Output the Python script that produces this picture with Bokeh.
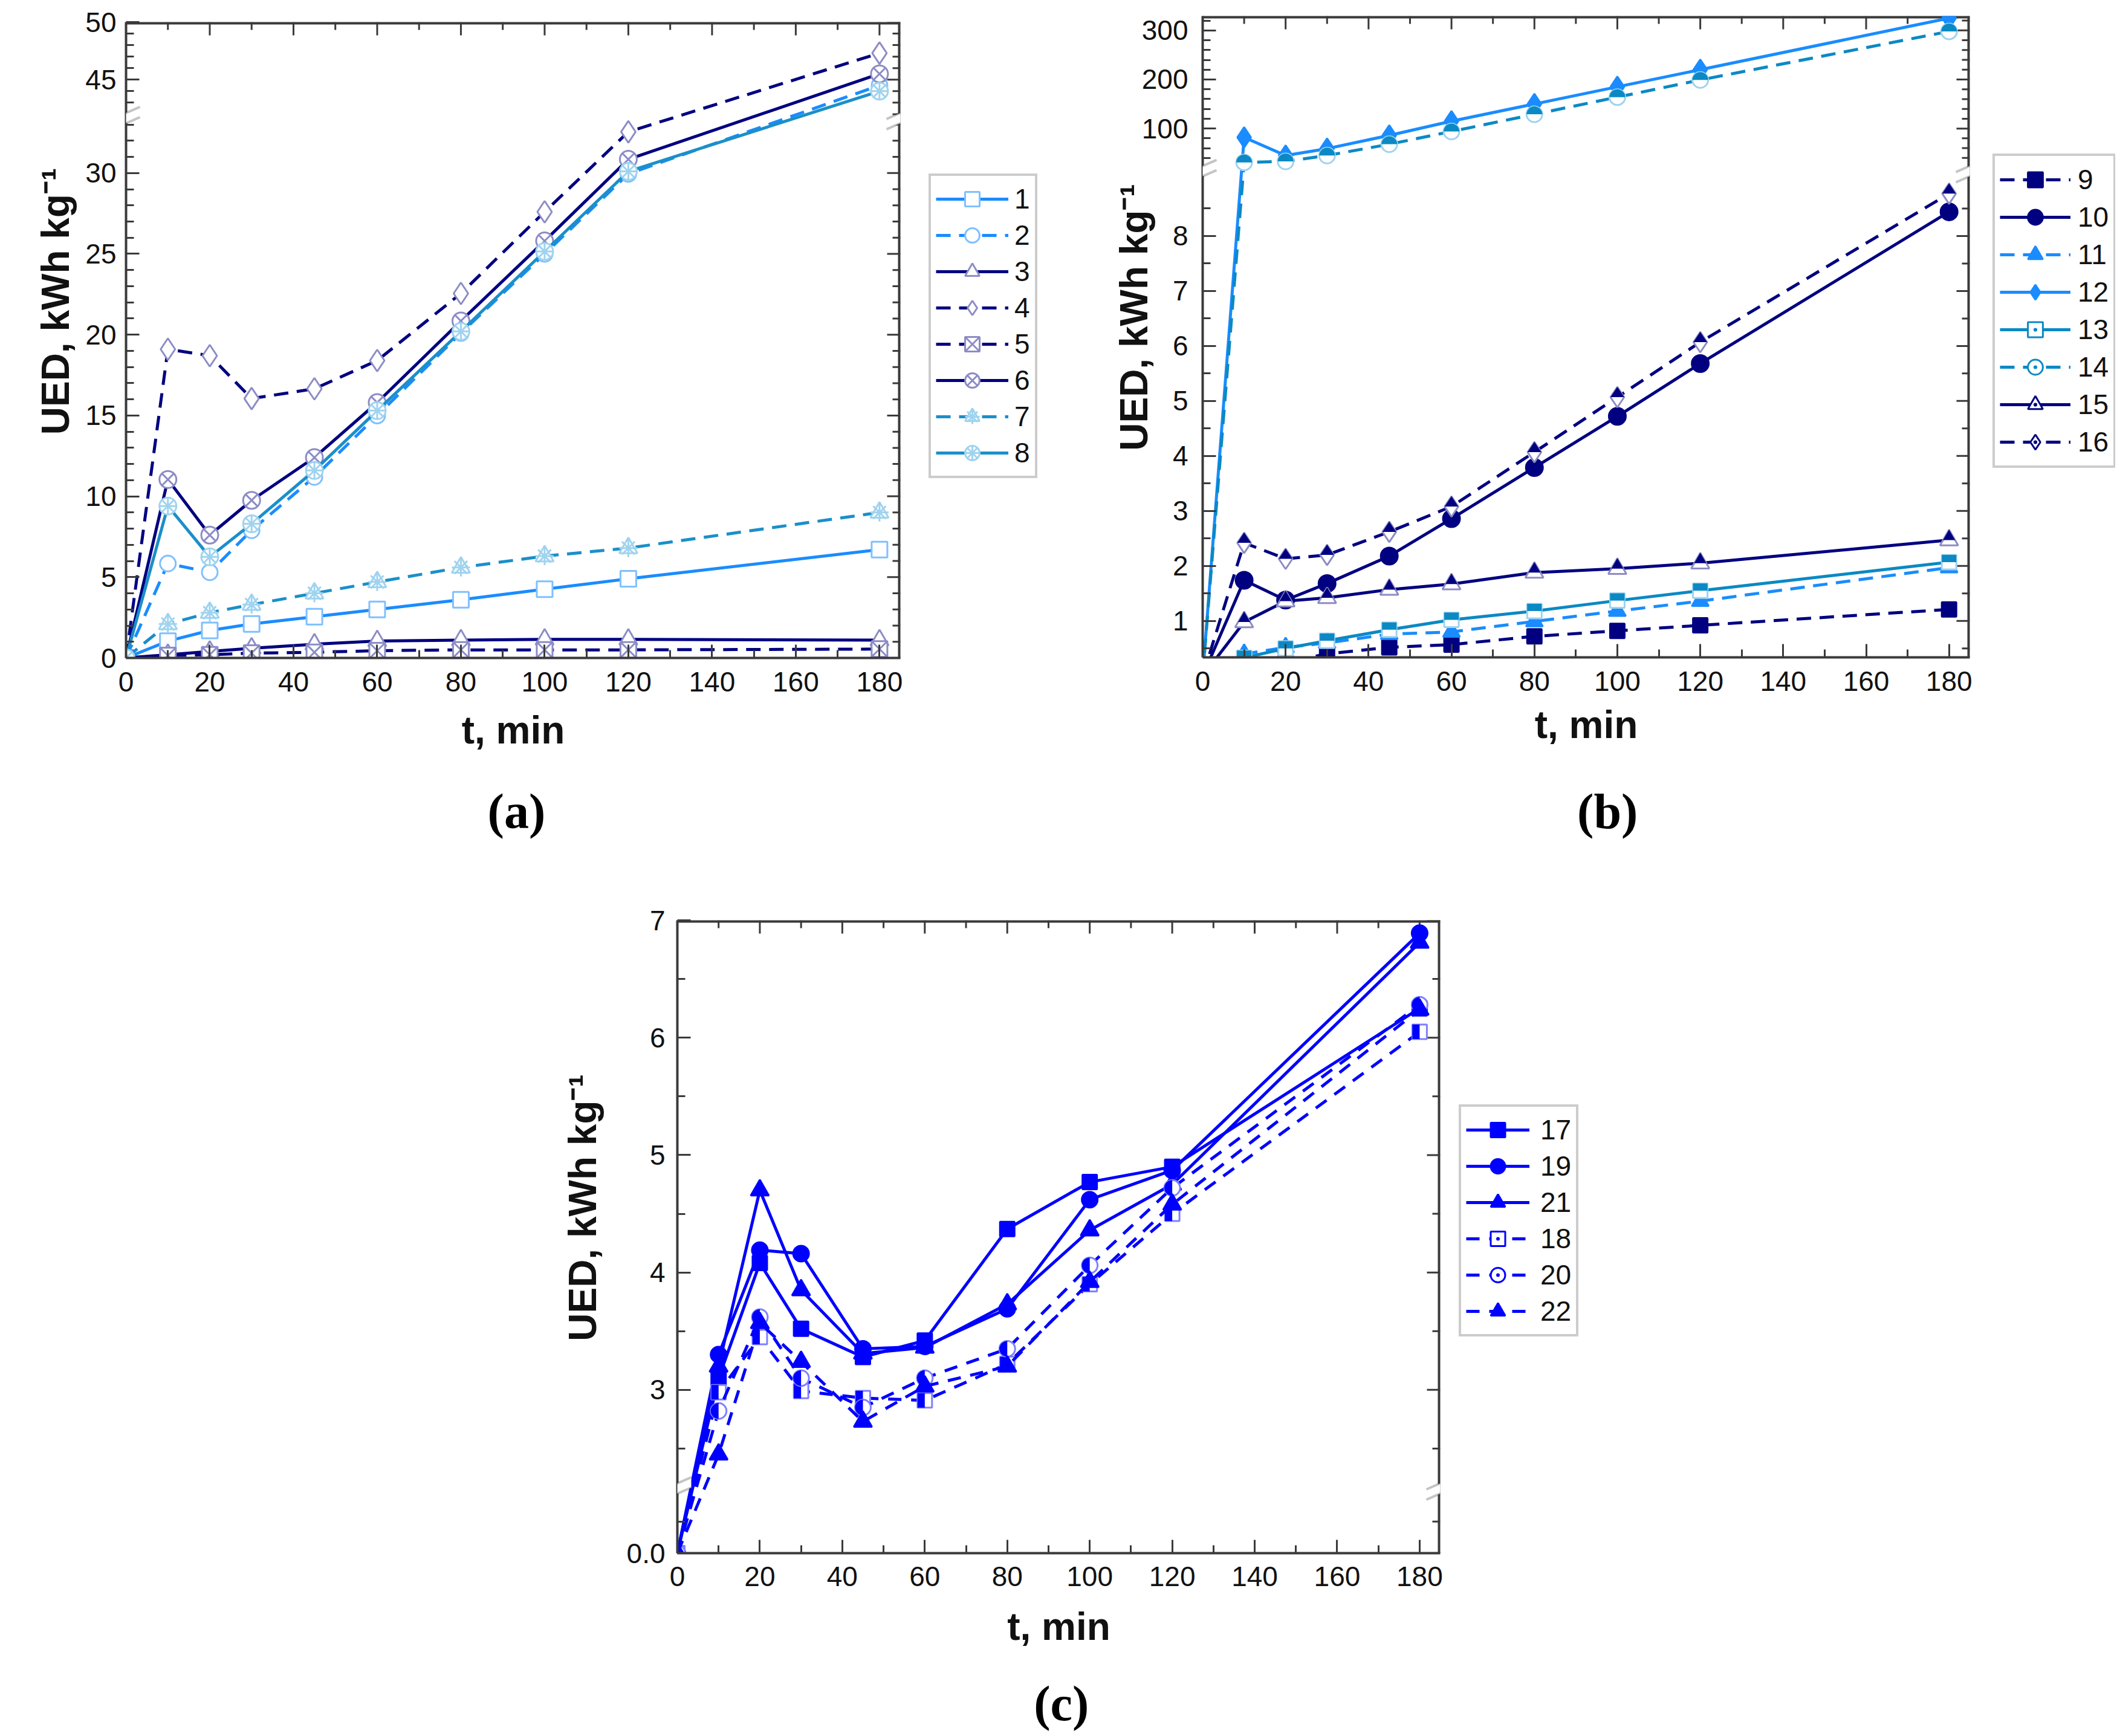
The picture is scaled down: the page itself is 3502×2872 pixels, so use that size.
import math
from bokeh.plotting import figure
from bokeh.models import (FixedTicker, Legend, LegendItem, Label,
                          PolyAnnotation, Spacer, ColumnDataSource)
from bokeh.layouts import column, row
from bokeh.embed import file_html
from bokeh.resources import INLINE

# ---------------------------------------------------------------- data
t_min = [0, 10, 20, 30, 45, 60, 80, 100, 120, 180]

# panel (a)
a_s1 = [0, 1.04, 1.7, 2.1, 2.55, 3.0, 3.6, 4.25, 4.9, 6.7]
a_s2 = [0, 5.84, 5.3, 7.9, 11.2, 15.0, 20.1, 25.0, 29.95, 44.5]
a_s3 = [0, 0.2, 0.4, 0.6, 0.85, 1.05, 1.1, 1.15, 1.15, 1.1]
a_s4 = [0, 19.1, 18.7, 16.05, 16.65, 18.4, 22.55, 27.6, 32.55, 47.3]
a_s5 = [0, 0.15, 0.2, 0.3, 0.35, 0.45, 0.5, 0.5, 0.5, 0.55]
a_s6 = [0, 11.04, 7.6, 9.75, 12.4, 15.8, 20.85, 25.8, 30.85, 45.5]
a_s7 = [0, 2.1, 2.8, 3.3, 4.0, 4.7, 5.6, 6.3, 6.8, 9.0]
a_s8 = [0, 9.4, 6.25, 8.3, 11.6, 15.3, 20.2, 25.15, 30.1, 44.0]

# panel (b)
b_s9 = [0, 0.12, 0.25, 0.4, 0.52, 0.57, 0.72, 0.82, 0.92, 1.21]
b_s10 = [0, 1.74, 1.38, 1.68, 2.18, 2.86, 3.79, 4.72, 5.68, 8.44]
b_s11 = [0, 0.4, 0.52, 0.6, 0.76, 0.8, 0.99, 1.18, 1.36, 1.97]
b_s12 = [0, 82, 45, 59, 86, 115, 150, 185, 220, 325]
b_s13 = [0, 0.33, 0.5, 0.64, 0.84, 1.02, 1.18, 1.37, 1.55, 2.07]
b_s14 = [0, 31, 33, 45, 68, 94, 129, 164, 199, 298]
b_s15 = [0, 0.98, 1.36, 1.42, 1.57, 1.67, 1.88, 1.95, 2.05, 2.47]
b_s16 = [0, 2.42, 2.13, 2.2, 2.62, 3.08, 4.07, 5.07, 6.07, 8.77]

# panel (c)
c_s17 = [0, 3.1, 4.08, 3.52, 3.28, 3.42, 4.37, 4.77, 4.9, 6.25]
c_s19 = [0, 3.3, 4.19, 4.16, 3.35, 3.37, 3.69, 4.62, 4.87, 6.89]
c_s21 = [0, 3.2, 4.7, 3.85, 3.31, 3.36, 3.73, 4.36, 4.75, 6.81]
c_s18 = [0, 2.98, 3.45, 2.99, 2.93, 2.91, 3.22, 3.9, 4.5, 6.05]
c_s20 = [0, 2.82, 3.62, 3.1, 2.85, 3.1, 3.35, 4.06, 4.72, 6.28]
c_s22 = [0, 2.45, 3.57, 3.24, 2.73, 3.03, 3.2, 3.92, 4.58, 6.24]

x_major = [0, 20, 40, 60, 80, 100, 120, 140, 160, 180]
x_minor = [10, 30, 50, 70, 90, 110, 130, 150, 170]

a_major = [0, 5, 10, 15, 20, 25, 30, 45, 50]
a_minor = [v for v in range(1, 34) if v % 5] + [42, 43, 44, 46, 47, 48, 49]
b_major = [1, 2, 3, 4, 5, 6, 7, 8, 100, 200, 300]
b_minor = [0.5, 1.5, 2.5, 3.5, 4.5, 5.5, 6.5, 7.5, 8.5,
           40, 60, 80, 120, 140, 160, 180, 220, 240, 260, 280, 320]
c_major = [0, 3, 4, 5, 6, 7]
c_minor = [0.25, 2.5, 3.5, 4.5, 5.5, 6.5]
c_major_text = ["0.0", "3", "4", "5", "6", "7"]

Y_TITLE = "UED, kWh kg⁻¹"
X_TITLE = "t, min"

# ---------------------------------------------------------------- broken-axis mappings
def tf_a(v):
    return v if v <= 33.27 else 35.78 + (v - 45.0) * 0.7123

def tf_b(v):
    return v if v <= 9.18 else 9.954 + (v - 100.0) * 0.00892

def tf_c(v):
    return 1.609 + v * 1.074 if v < 0.5 else v

# ---------------------------------------------------------------- styles
FRAME = "#3a3a3a"
NAVY, NAVY_L = "#000080", "#8c8cc6"
AZURE, AZURE_L = "#1a8cff", "#80c0ff"
TEAL, TEAL_L = "#1b8fc9", "#9fd3ef"
TEAL2 = "#0b89c4"
BLUE, BLUE_L = "#0000ff", "#8080ff"
LW = 5
DASH = "24 14"
DASH_C = "22 16"
TICK_FONT = "Liberation Sans"
TITLE_FONT = "Liberation Sans"
TICK_IN, MINOR_IN = 22, 13
NAN = float("nan")
EM, EN = "\u2003", "\u2002"   # leading spacing shifts the y title along its axis


def style_axis(ax):
    ax.axis_line_width = 4
    ax.axis_line_color = FRAME
    ax.major_tick_line_color = FRAME
    ax.minor_tick_line_color = FRAME
    ax.major_tick_line_width = 3
    ax.minor_tick_line_width = 3
    ax.major_tick_in = TICK_IN
    ax.major_tick_out = 0
    ax.minor_tick_in = MINOR_IN
    ax.minor_tick_out = 0
    ax.major_label_text_font = TICK_FONT
    ax.major_label_text_font_size = "46px"
    ax.major_label_text_color = "#111111"


def make_fig(w, h, ml, mr, mt, mb, yr, tf, ymaj, ymin, ylabels,
             x_tick_standoff, xl_standoff, yl_standoff, yl_tick_standoff, ypad):
    p = figure(width=w, height=h, x_range=(0, 185), y_range=yr,
               output_backend="svg", toolbar_location=None,
               min_border_left=ml, min_border_right=mr,
               min_border_top=mt, min_border_bottom=mb)
    p.xgrid.visible = False
    p.ygrid.visible = False
    p.outline_line_color = None
    fw = w - ml - mr
    fh = h - mt - mb
    yt_major = [round(tf(v), 6) for v in ymaj]
    yt_minor = [round(tf(v), 6) for v in ymin]
    overrides = {k: s for k, s in zip(yt_major, ylabels)}

    xb = p.below[0]
    xb.ticker = FixedTicker(ticks=x_major, minor_ticks=x_minor)
    style_axis(xb)
    xb.major_label_standoff = x_tick_standoff
    xb.axis_label = X_TITLE
    xb.axis_label_text_font = TITLE_FONT
    xb.axis_label_text_font_style = "bold"
    xb.axis_label_text_font_size = "64px"
    xb.axis_label_text_color = "#111111"
    xb.axis_label_standoff = xl_standoff

    yl = p.left[0]
    yl.ticker = FixedTicker(ticks=yt_major, minor_ticks=yt_minor)
    yl.major_label_overrides = overrides
    style_axis(yl)
    yl.major_label_standoff = yl_tick_standoff
    yl.axis_label = ypad + Y_TITLE
    yl.axis_label_text_font = TITLE_FONT
    yl.axis_label_text_font_style = "bold"
    yl.axis_label_text_font_size = "64px"
    yl.axis_label_text_color = "#111111"
    yl.axis_label_standoff = yl_standoff

    dxu = 185.0 / fw
    dyu = (yr[1] - yr[0]) / fh
    # top and right frame lines (half of the width is clipped by the frame)
    p.segment(x0=[0, 185], y0=[yr[1], yr[0]], x1=[185, 185], y1=[yr[1], yr[1]],
              line_color=FRAME, line_width=8)
    # inward mirror ticks on top and right edges
    xs0, xs1, ys0, ys1 = [], [], [], []
    for xv, ln in [(v, TICK_IN) for v in x_major] + [(v, MINOR_IN) for v in x_minor]:
        xs0.append(xv); xs1.append(xv)
        ys0.append(yr[1]); ys1.append(yr[1] - ln * dyu)
    for yv, ln in [(v, TICK_IN) for v in yt_major] + [(v, MINOR_IN) for v in yt_minor]:
        xs0.append(185); xs1.append(185 - ln * dxu)
        ys0.append(yv); ys1.append(yv)
    p.segment(x0=xs0, y0=ys0, x1=xs1, y1=ys1, line_color=FRAME, line_width=3)
    return p, dxu, dyu


def add_break(p, yb, dxu, dyu):
    hw, hh, g = 23, 10, 8.5
    for xb in (0, 185):
        xs = [xb - hw * dxu, xb + hw * dxu, xb + hw * dxu, xb - hw * dxu]
        ys = [yb + (-hh - g) * dyu, yb + (hh - g) * dyu, yb + (hh + g) * dyu, yb + (-hh + g) * dyu]
        p.add_layout(PolyAnnotation(xs=xs, ys=ys, fill_color="white", fill_alpha=1.0,
                                    line_alpha=0.0))
        for off in (-g, g):
            p.add_layout(PolyAnnotation(xs=[xb - hw * dxu, xb + hw * dxu],
                                        ys=[yb + (-hh + off) * dyu, yb + (hh + off) * dyu],
                                        fill_alpha=0.0, line_color=FRAME, line_width=4))


def half_shapes(xs, ys, shape, side, size, dxu, dyu):
    r = size / 2.0
    pxs, pys = [], []
    for x, y in zip(xs, ys):
        if shape == "square":
            if side == "top":
                pxs.append([x - r * dxu, x + r * dxu, x + r * dxu, x - r * dxu])
                pys.append([y, y, y + r * dyu, y + r * dyu])
            else:
                pxs.append([x - r * dxu, x, x, x - r * dxu])
                pys.append([y - r * dyu, y - r * dyu, y + r * dyu, y + r * dyu])
        elif shape == "triangle":
            a = r * math.sqrt(3) / 3
            pxs.append([x, x - 2 * r / 3 * dxu, x + 2 * r / 3 * dxu])
            pys.append([y + 2 * a * dyu, y, y])
        elif shape == "diamond":
            pxs.append([x, x + r / 1.5 * dxu, x - r / 1.5 * dxu])
            pys.append([y + r * dyu, y, y])
    return pxs, pys


def draw_series(p, ys, tf, color, dash, markers, dxu, dyu, half=None):
    yt = [tf(v) for v in ys]
    src = ColumnDataSource(dict(x=t_min, y=yt))
    p.line("x", "y", source=src, line_color=color, line_width=LW, line_dash=dash)
    for (mk, size, lc, fc) in markers:
        p.scatter("x", "y", source=src, marker=mk, size=size, line_color=lc,
                  line_width=3, fill_color=fc)
    if half is not None:
        shape, side, size, fcol = half
        if shape == "circle":
            st, en = (0, math.pi) if side == "top" else (math.pi / 2, 3 * math.pi / 2)
            p.wedge("x", "y", source=src, radius=size / 2.0, radius_units="screen",
                    start_angle=st, end_angle=en, fill_color=fcol, line_color=None)
        else:
            pxs, pys = half_shapes(t_min, yt, shape, side, size, dxu, dyu)
            p.patches(pxs, pys, fill_color=fcol, line_color=None)


def legend_fig(w, h, entries, vx, vy, glyph_w, glyph_h, standoff):
    lf = figure(width=w, height=h, x_range=(0, 1), y_range=(0, 1),
                x_axis_location=None, y_axis_location=None,
                output_backend="svg", toolbar_location=None, min_border=0)
    lf.xgrid.visible = False
    lf.ygrid.visible = False
    lf.outline_line_color = None
    items = []
    for lab, color, dash, mks in entries:
        rs = [lf.line(x=[0, 1], y=[NAN, NAN], line_color=color, line_width=LW, line_dash=dash)]
        for mk, lc, fc in mks:
            rs.append(lf.scatter(x=[0], y=[NAN], marker=mk, size=24, line_color=lc,
                                 fill_color=fc, line_width=3))
        items.append(LegendItem(label=lab, renderers=rs))
    leg = Legend(items=items, location=(vx, vy), orientation="vertical",
                 border_line_color="#9a9a9a", border_line_width=4,
                 background_fill_color="white", background_fill_alpha=1.0,
                 padding=8, margin=0, spacing=0,
                 glyph_width=glyph_w, glyph_height=glyph_h, label_height=glyph_h,
                 label_standoff=standoff,
                 label_text_font=TICK_FONT, label_text_font_size="46px",
                 label_text_color="#111111")
    lf.add_layout(leg)
    return lf


def label_fig(w, h, cx, cy, text):
    f = figure(width=w, height=h, x_range=(0, w), y_range=(0, h),
               x_axis_location=None, y_axis_location=None,
               output_backend="svg", toolbar_location=None, min_border=0)
    f.xgrid.visible = False
    f.ygrid.visible = False
    f.outline_line_color = None
    f.add_layout(Label(x=cx, y=cy, text=text, text_align="center", text_baseline="middle",
                       text_font="Liberation Serif", text_font_style="bold",
                       text_font_size="82px", text_color="#000000"))
    return f

# ---------------------------------------------------------------- panel (a)
ya = (0.0, tf_a(50))
fa, dxa, dya = make_fig(1533, 1290, 208, 44, 36, 202, ya, tf_a,
                        a_major, a_minor, [str(v) for v in a_major], 23, 25, 10, 16, EM + EM)
specs_a = [
    (a_s1, "1", AZURE, "solid", [("square", 26, AZURE_L, "white")]),
    (a_s2, "2", AZURE, DASH, [("circle", 26, AZURE_L, "white")]),
    (a_s3, "3", NAVY, "solid", [("triangle", 30, NAVY_L, "white")]),
    (a_s4, "4", NAVY, DASH, [("diamond", 36, NAVY_L, "white")]),
    (a_s5, "5", NAVY, DASH, [("square_x", 26, NAVY_L, "white")]),
    (a_s6, "6", NAVY, "solid", [("circle_x", 28, NAVY_L, "white")]),
    (a_s7, "7", TEAL, DASH, [("triangle", 30, TEAL_L, "white"), ("asterisk", 30, TEAL_L, None)]),
    (a_s8, "8", TEAL, "solid", [("circle", 28, TEAL_L, "white"), ("asterisk", 28, TEAL_L, None)]),
]
leg_a = []
for ys, lab, col, dash, mks in specs_a:
    draw_series(fa, ys, tf_a, col, dash, mks, dxa, dya)
    leg_a.append((lab, col, dash, [(m[0], m[2], m[3]) for m in mks]))
add_break(fa, 33.4, dxa, dya)
la = legend_fig(227, 1420, leg_a, 3, 629, 120, 60, 10)
laba = label_fig(1533, 130, 773, 78, "(a)")

# ---------------------------------------------------------------- panel (b)
yb = (0.338, 12.0)
fb, dxb, dyb = make_fig(1533, 1290, 229, 35, 26, 203, yb, tf_b,
                        b_major, b_minor, [str(v) for v in b_major], 23, 17, -26, 24, EM)
specs_b = [
    (b_s9, "9", NAVY, DASH, [("square", 24, NAVY, NAVY)], None, None),
    (b_s10, "10", NAVY, "solid", [("circle", 28, NAVY, NAVY)], None, None),
    (b_s11, "11", AZURE, DASH, [("triangle", 28, AZURE, AZURE)], None, None),
    (b_s12, "12", AZURE, "solid", [("diamond", 34, AZURE, AZURE)], None, None),
    (b_s13, "13", TEAL2, "solid", [("square", 24, TEAL_L, "white")], ("square", "top", 24, TEAL2), "square_dot"),
    (b_s14, "14", TEAL2, DASH, [("circle", 26, TEAL_L, "white")], ("circle", "top", 26, TEAL2), "circle_dot"),
    (b_s15, "15", NAVY, "solid", [("triangle", 30, NAVY_L, "white")], ("triangle", "top", 30, NAVY), "triangle_dot"),
    (b_s16, "16", NAVY, DASH, [("diamond", 34, NAVY_L, "white")], ("diamond", "top", 34, NAVY), "diamond_dot"),
]
leg_b = []
for ys, lab, col, dash, mks, half, proxy in specs_b:
    draw_series(fb, ys, tf_b, col, dash, mks, dxb, dyb, half)
    if proxy is None:
        leg_b.append((lab, col, dash, [(m[0], m[2], m[3]) for m in mks]))
    else:
        leg_b.append((lab, col, dash, [(proxy, half[3], "white")]))
add_break(fb, 9.18, dxb, dyb)
lb = legend_fig(206, 1420, leg_b, 3, 646, 117, 62, 12)
labb = label_fig(1533, 130, 809, 78, "(b)")

# ---------------------------------------------------------------- panel (c)
yc = (tf_c(0), 7.0)
fc, dxc, dyc = make_fig(1498, 1345, 208, 28, 102, 196, yc, tf_c,
                        c_major, c_minor, c_major_text, 22, 28, 34, 20, EM + EN)
specs_c = [
    (c_s17, "17", "solid", [("square", 24, BLUE, BLUE)], None, None),
    (c_s19, "19", "solid", [("circle", 26, BLUE, BLUE)], None, None),
    (c_s21, "21", "solid", [("triangle", 30, BLUE, BLUE)], None, None),
    (c_s18, "18", DASH_C, [("square", 24, BLUE_L, "white")], ("square", "left", 24, BLUE), "square_dot"),
    (c_s20, "20", DASH_C, [("circle", 26, BLUE_L, "white")], ("circle", "left", 26, BLUE), "circle_dot"),
    (c_s22, "22", DASH_C, [("triangle", 30, BLUE, BLUE)], None, None),
]
leg_c = []
for ys, lab, dash, mks, half, proxy in specs_c:
    draw_series(fc, ys, tf_c, BLUE, dash, mks, dxc, dyc, half)
    if proxy is None:
        leg_c.append((lab, BLUE, dash, [(m[0], m[2], m[3]) for m in mks]))
    else:
        leg_c.append((lab, BLUE, dash, [(proxy, BLUE, "white")]))
add_break(fc, 2.16, dxc, dyc)
lc = legend_fig(250, 1450, leg_c, 3, 659, 105, 60, 18)
labc = label_fig(1498, 105, 754, 52, "(c)")

layout = column(
    row(column(fa, laba), la, column(fb, labb), lb),
    row(Spacer(width=912, height=1450), column(fc, labc), lc),
)
open("out.html", "w").write(file_html(layout, INLINE, title="UED"))
